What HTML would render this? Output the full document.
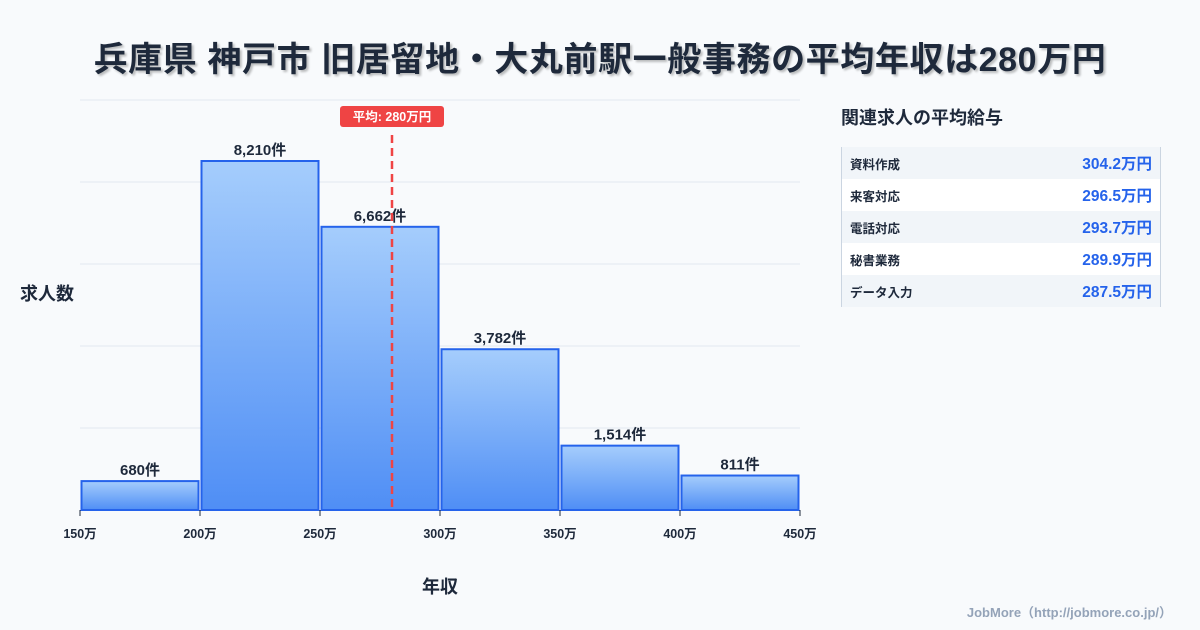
<!DOCTYPE html>
<html><head><meta charset="utf-8">
<style>
body{margin:0;width:1200px;height:630px;background:#f8fafc;font-family:"Liberation Sans","Noto Sans CJK JP",sans-serif;position:relative;overflow:hidden;color:#1e293b}
.title{position:absolute;left:0;width:1200px;top:32px;text-align:center;font-size:34px;letter-spacing:0.6px;font-weight:bold;text-shadow:2px 2px 2px rgba(0,0,0,0.25)}
.side-title{position:absolute;left:841px;top:104px;font-size:18px;font-weight:bold}
.tbl{position:absolute;left:841px;top:147px;width:318px;border-left:1px solid #cbd5e1;border-right:1px solid #cbd5e1}
.row{height:32px;display:flex;justify-content:space-between;align-items:center;padding:0 8px 0 8px}
.row:nth-child(odd){background:#f1f5f9}
.row:nth-child(even){background:#fff}
.row .k{font-size:12.5px;font-weight:bold;color:#1e293b}
.row .v{font-size:15.5px;font-weight:bold;color:#2563eb}
.foot{position:absolute;right:28px;top:602px;font-size:13px;color:#94a3b8;font-weight:bold}
</style></head><body>
<div class="title">兵庫県 神戸市 旧居留地・大丸前駅一般事務の平均年収は280万円</div>
<svg id="chart" width="830" height="630" style="position:absolute;left:0;top:0">
<defs></defs>
</svg>
<div class="side-title">関連求人の平均給与</div>
<div class="tbl">
<div class="row"><span class="k">資料作成</span><span class="v">304.2万円</span></div>
<div class="row"><span class="k">来客対応</span><span class="v">296.5万円</span></div>
<div class="row"><span class="k">電話対応</span><span class="v">293.7万円</span></div>
<div class="row"><span class="k">秘書業務</span><span class="v">289.9万円</span></div>
<div class="row"><span class="k">データ入力</span><span class="v">287.5万円</span></div>
</div>
<div class="foot">JobMore（http://jobmore.co.jp/）</div>
<script>
const binStarts=[150,200,250,300,350,400];
const counts=[680,8210,6662,3782,1514,811];
const xTicks=[150,200,250,300,350,400,450];
const meanValue=280;
const NS='http://www.w3.org/2000/svg';
const svg=document.getElementById('chart');
const X0=80,X1=800,Y0=510,YTOP=100,xmin=150,xmax=450,ymax=9645;
const xs=v=>X0+(v-xmin)/(xmax-xmin)*(X1-X0);
const ys=v=>Y0-v/ymax*(Y0-YTOP);
function mk(t,a){const e=document.createElementNS(NS,t);for(const k in a)e.setAttribute(k,a[k]);svg.appendChild(e);return e;}
for(let i=0;i<5;i++){const y=YTOP+i*82;const l=mk('line',{x1:X0,x2:X1,y1:y,y2:y,stroke:'#e2e8f0','stroke-width':1});

}
binStarts.forEach((b,i)=>{
 const x=xs(b)+1.5,w=xs(b+50)-xs(b)-3,y=ys(counts[i]);
 const gid='g'+i;
 const lg=document.createElementNS(NS,'linearGradient');lg.setAttribute('id',gid);lg.setAttribute('x1',0);lg.setAttribute('y1',0);lg.setAttribute('x2',0);lg.setAttribute('y2',1);
 lg.innerHTML='<stop offset="0" stop-color="#a5cdfc"/><stop offset="1" stop-color="#4f8ef5"/>';svg.querySelector('defs').appendChild(lg);
 const r=mk('rect',{x:x,y:y,width:w,height:Y0-y,fill:'url(#'+gid+')',stroke:'#2563eb','stroke-width':2});
 
 
 const t=mk('text',{x:x+w/2,y:y-6,'text-anchor':'middle','font-size':15,'font-weight':'bold',fill:'#1e293b'});
 t.textContent=counts[i].toLocaleString('en-US')+'件';
 
 
});
xTicks.forEach(v=>{const x=xs(v);
 const tk=mk('line',{x1:x,x2:x,y1:Y0,y2:Y0+6,stroke:'#1e293b','stroke-width':1});
 
 
 const t=mk('text',{x:x,y:Y0+28,'text-anchor':'middle','font-size':12.5,'font-weight':'bold',fill:'#1e293b'});t.textContent=v+'万';
 
 });
const mx=xs(meanValue);
const ml=mk('line',{x1:mx,x2:mx,y1:135,y2:Y0,stroke:'#ef4444','stroke-width':2.5,'stroke-dasharray':'8,5'});


const mb=mk('rect',{x:mx-52,y:106,width:104,height:21,rx:3,fill:'#ef4444'});


const mt=mk('text',{x:mx,y:121,'text-anchor':'middle','font-size':12.5,'font-weight':'bold',fill:'#fff'});mt.textContent='平均: '+meanValue+'万円';


const yt=mk('text',{x:20,y:300,'font-size':18,'font-weight':'bold',fill:'#1e293b'});yt.textContent='求人数';


const xt=mk('text',{x:440,y:593,'text-anchor':'middle','font-size':18,'font-weight':'bold',fill:'#1e293b'});xt.textContent='年収';


</script>
</body></html>
